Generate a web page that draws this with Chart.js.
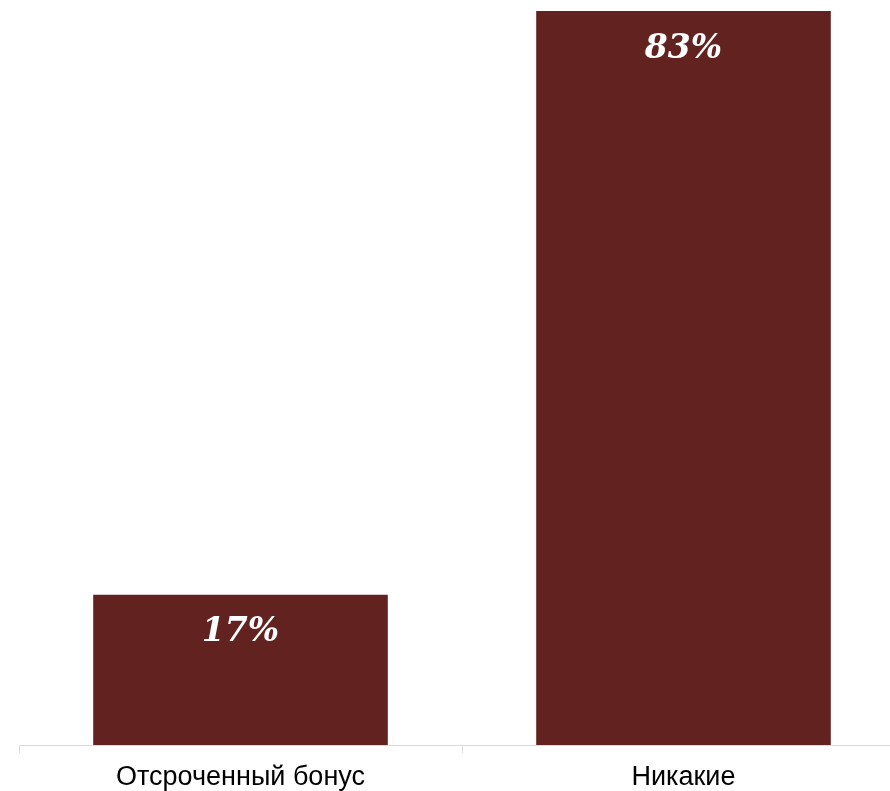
<!DOCTYPE html>
<html><head><meta charset="utf-8">
<script src="https://cdn.jsdelivr.net/npm/chart.js@4"></script>
<style>
html,body{margin:0;padding:0;background:#fff;overflow:hidden;}
#wrap{width:890px;height:791px;overflow:hidden;position:relative;}
#box{width:905px;height:791px;position:absolute;left:0;top:0;}
</style></head><body>
<div id="wrap"><div id="box"><canvas id="c"></canvas></div></div>
<script>
const categories = ["Отсроченный бонус", "Никакие"];
const values = [17, 83];
const valueLabels = ["17%", "83%"];

const labelPlugin = {
  id: 'barLabels',
  afterDatasetsDraw(chart) {
    const ctx = chart.ctx;
    const meta = chart.getDatasetMeta(0);
    ctx.save();
    ctx.fillStyle = '#ffffff';
    ctx.font = 'italic bold 33px "DejaVu Serif"';
    ctx.textAlign = 'center';
    ctx.textBaseline = 'middle';
    meta.data.forEach((bar, i) => {
      ctx.fillText(valueLabels[i], bar.x, bar.y + 38);
    });
    ctx.restore();
  }
};

new Chart(document.getElementById('c'), {
  type: 'bar',
  data: {
    labels: categories,
    datasets: [{ data: values, backgroundColor: '#62221f', categoryPercentage: 0.665, barPercentage: 1 }]
  },
  options: {
    responsive: true,
    maintainAspectRatio: false,
    animation: false,
    layout: { padding: { top: 11, left: 19, right: 0, bottom: -11 } },
    plugins: { legend: { display: false }, tooltip: { enabled: false } },
    scales: {
      x: {
        grid: { offset: true, drawOnChartArea: false, color: '#d9d9d9', tickLength: 8 },
        border: { color: '#d9d9d9', width: 1 },
        ticks: { color: '#000', font: { family: '"Liberation Sans", Arial', size: 27, lineHeight: 1 }, padding: 11 }
      },
      y: { display: false, min: 0, max: 83 }
    }
  },
  plugins: [labelPlugin]
});
</script>
</body></html>
